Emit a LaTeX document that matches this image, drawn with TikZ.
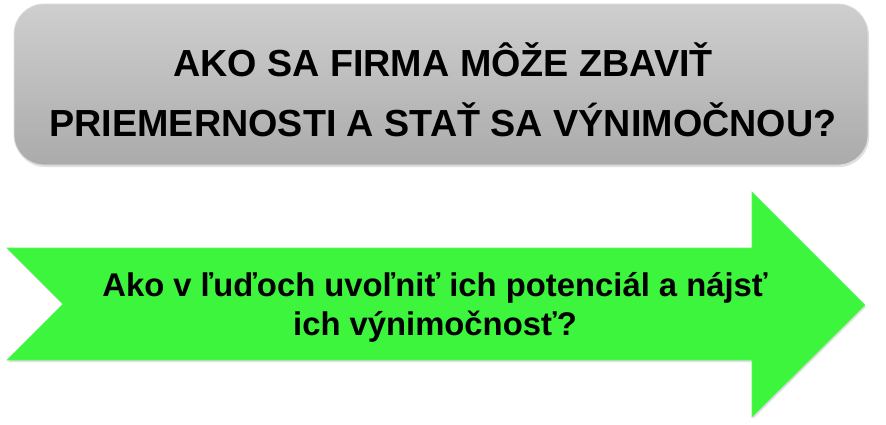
\documentclass[tikz,border=0pt]{standalone}
\usepackage{fontspec}
\setmainfont{Liberation Sans}
\usetikzlibrary{shadows}
\definecolor{arrowgreen}{RGB}{60,245,60}
\begin{document}
\begin{tikzpicture}[x=1pt,y=-1pt,
    titlebox/.style={rounded corners=30pt,draw=gray!25,line width=0.8pt,
      top color=gray!38,bottom color=gray!66,
      drop shadow={opacity=0.25,shadow xshift=1pt,shadow yshift=-2pt}},
    arrowshape/.style={fill=arrowgreen,draw=arrowgreen!85!white,line width=0.6pt,
      drop shadow={opacity=0.25,shadow xshift=1pt,shadow yshift=-2pt}},
    bigtext/.style={align=center,inner sep=0pt,anchor=base,
      font=\bfseries\fontsize{37.7}{59}\selectfont},
    smalltext/.style={align=center,inner sep=0pt,anchor=base,
      font=\bfseries\fontsize{32.8}{39}\selectfont}]
  \useasboundingbox (0,0) rectangle (886,425);
  % question box
  \draw[titlebox] (14,4) rectangle (868,165);
  \node[bigtext] (question) at (443,136)
    {AKO SA FIRMA MÔŽE ZBAVIŤ\\PRIEMERNOSTI A STAŤ SA VÝNIMOČNOU?};
  % green arrow
  \draw[arrowshape] (7,248) -- (752,248) -- (752,192) -- (865,305)
    -- (752,417) -- (752,360) -- (7,360) -- (63,304) -- cycle;
  \node[smalltext] (answer) at (435,335)
    {Ako v ľuďoch uvoľniť ich potenciál a nájsť\\ich výnimočnosť?};
\end{tikzpicture}
\end{document}
